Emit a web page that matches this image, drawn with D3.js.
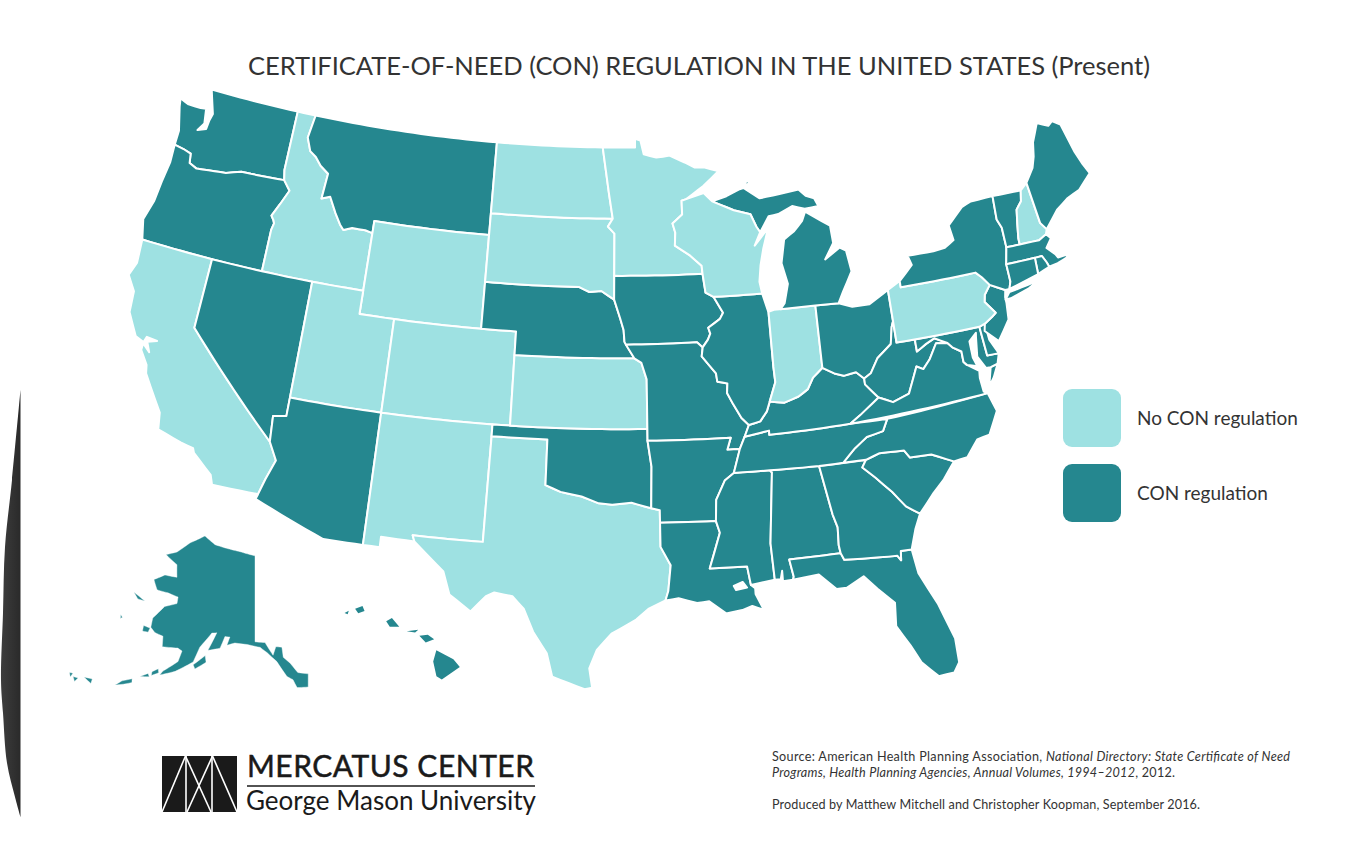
<!DOCTYPE html>
<html><head><meta charset="utf-8"><style>html,body{margin:0;background:#fff}svg{display:block}text{font-family:Lato,sans-serif}</style>
<script src="https://cdn.jsdelivr.net/npm/d3@7"></script></head><body><svg id="c" width="1356" height="857"></svg>
<script>
const titleText="CERTIFICATE-OF-NEED (CON) REGULATION IN THE UNITED STATES (Present)";
const legendLabels=["No CON regulation","CON regulation"];
const noCon=["ID","CA","WY","UT","CO","NM","TX","KS","SD","ND","MN","WI","IN","PA","NH"];
const r=a=>a.slice().reverse();
// shared borders, [lon,lat]
const columbia=[[-124,46.27],[-123.4,46.2],[-122.9,46.1],[-122.8,45.7],[-122.3,45.55],[-121.2,45.65],[-120.5,45.7],[-119.6,45.92],[-119,45.93],[-116.92,45.995]];
const snake=[[-116.92,45.995],[-116.46,45.6],[-116.85,44.95],[-117.2,44.4],[-117.03,44.23],[-116.95,44.1],[-117.03,43.8],[-117.03,42]];
const idMt=[[-115.85,49],[-116.05,48],[-115.72,47.45],[-115.3,47.25],[-114.9,46.92],[-114.35,46.65],[-114.45,45.55],[-113.95,45.7],[-113.45,45.05],[-113.05,44.6],[-112.8,44.4],[-112.3,44.55],[-111.5,44.55],[-111.05,44.48]];
const colorado=[[-114.65,35],[-114.15,34.27],[-114.5,33.4],[-114.72,32.72]];
const red=[[-100,34.56],[-99.2,34.3],[-98.1,34.13],[-97.2,33.85],[-96.5,33.8],[-95.5,33.88],[-94.48,33.64]];
const moUp=[[-96.45,42.49],[-96.1,41.7],[-95.9,41.2],[-95.85,40.7]];
const missMid=[[-91.42,40.38],[-91.5,40],[-90.75,39.25],[-90.7,38.9],[-90.15,38.8],[-90.2,38.4],[-89.9,37.9],[-89.5,37.3],[-89.13,36.98]];
const missLow=[[-89.7,36],[-90.1,35],[-90.6,34.7],[-91.1,33.9],[-91.17,33]];
const missUp=[[-92.8,44.75],[-91.9,44.3],[-91.25,43.85],[-91.22,43.5]];
const iaIl=[[-91.1,42.7],[-90.65,42.5],[-90.15,41.8],[-90.35,41.55],[-91.05,41.2],[-90.95,40.95],[-91.1,40.7],[-91.42,40.38]];
const ohioR=[[-82.6,38.42],[-83,38.73],[-83.7,38.65],[-84.2,38.8],[-84.82,39.1],[-85.4,38.73],[-85.75,38.27],[-86.3,38],[-87.1,37.8],[-87.9,37.9]];
const ohioLow=[[-87.9,37.9],[-88.1,37.5],[-88.5,37.1],[-89.13,36.98]];
const savannah=[[-83.11,35],[-83.35,34.7],[-82.75,34.2],[-82,33.5],[-81.4,32.8],[-80.75,32.4]];
const tnNc=[[-84.32,35],[-83.6,35.55],[-82.9,35.95],[-82,36.1],[-81.68,36.59]];
const ohWv=[[-80.52,40.64],[-80.65,40.4],[-80.85,39.7],[-81.7,39.2],[-82.2,38.6],[-82.6,38.42]];
const vaWv=[[-77.72,39.32],[-78.35,39.4],[-78.87,38.77],[-79.3,38.42],[-79.65,38.58],[-80.3,37.5],[-81.23,37.25],[-81.97,37.54]];
const mdWv=[[-79.48,39.72],[-79.48,39.2],[-78.9,39.45],[-78.4,39.62],[-77.72,39.32]];
const potomac=[[-77.72,39.32],[-77.5,39.1],[-77.05,38.85],[-77.05,38.4],[-76.9,38.25],[-76.3,37.9]];
const paNj=[[-74.7,41.36],[-75.1,41],[-75.2,40.7],[-74.72,40.15],[-75,40],[-75.45,39.8]];
const nyPa=[[-79.76,42.27],[-79.76,42],[-75.35,42],[-75.05,41.75],[-74.7,41.36]];
const vtNh=[[-71.6,44.95],[-71.75,44.5],[-72.13,44.2],[-72.3,43.6],[-72.45,43],[-72.46,42.73]];
const nyVt=[[-73.26,42.75],[-73.25,43.6],[-73.43,44],[-73.34,45.01]];
const nhMe=[[-71.15,45.2],[-70.98,43.4],[-70.7,43.07]];
const wiMi=[[-90.4,46.57],[-89.1,46.13],[-88.1,45.9],[-87.8,45.35],[-87.6,45.1]];
// state outlines: each is a list of rings
const states={
WA:[[[-124.5,48.25],[-124.4,47.9],[-124,46.9],...columbia,[-117.04,46.42],[-117.03,49],[-122.75,49],[-122.5,48.5],[-122.25,48],[-122.35,47.7],[-122.4,47.3],[-122.9,47.15],[-122.6,47.5],[-122.75,48.13],[-123.1,48.1],[-123.9,48.1]]],
OR:[[[-124,46.27],[-123.95,45.5],[-124.1,44.6],[-124.2,43.7],[-124.5,42.85],[-124.2,42],[-117.03,42],...r(snake),...r(columbia).slice(1)]],
CA:[[[-124.2,42],[-120,42],[-120,39],...colorado,[-117.12,32.7],[-117.3,33.1],[-118.4,33.85],[-118.5,34.03],[-119.2,34.15],[-120.5,34.45],[-120.65,35.15],[-121.9,36.6],[-122,36.95],[-122.5,37.5],[-122.5,37.8],[-122.05,37.5],[-122.3,37.9],[-121.8,38.05],[-122.4,38.1],[-122.5,37.85],[-123,38],[-123.7,38.9],[-123.8,39.8],[-124.35,40.4],[-124.1,41]]],
ID:[[[-117.03,49],...idMt,[-111.05,42],[-117.03,42],...r(snake),[-117.04,46.42]]],
NV:[[[-120,42],[-114.05,42],[-114.05,36.2],[-114.75,36.1],[-114.65,35],[-120,39]]],
MT:[[[-115.85,49],[-104.05,49],[-104.05,45],[-111.05,45],...r(idMt).slice(0,-1)]],
WY:[[[-111.05,45],[-104.05,45],[-104.05,41],[-111.05,41]]],
UT:[[[-114.05,42],[-111.05,42],[-111.05,41],[-109.05,41],[-109.05,37],[-114.05,37]]],
CO:[[[-109.05,41],[-102.05,41],[-102.05,37],[-109.05,37]]],
AZ:[[[-114.05,37],[-109.05,37],[-109.05,31.33],[-111.07,31.33],[-114.8,32.5],...r(colorado),[-114.75,36.1],[-114.05,36.2]]],
NM:[[[-109.05,37],[-103,37],[-103,36.5],[-103.05,32],[-106.62,32],[-106.5,31.75],[-108.2,31.78],[-108.2,31.33],[-109.05,31.33]]],
TX:[[[-103,36.5],[-100,36.5],...red,[-94.04,33.55],[-94.04,31.99],[-93.55,31.2],[-93.7,30.1],[-93.85,29.7],[-94.7,29.35],[-95.3,28.9],[-96.5,28.3],[-97.2,27.6],[-97.55,26.8],[-97.4,25.96],[-97.75,25.9],[-99.3,26.4],[-99.6,27.4],[-100.3,28.3],[-100.8,29.25],[-101.4,29.77],[-102.3,29.88],[-102.7,29.7],[-103.4,29],[-104.5,29.65],[-104.9,30.6],[-106.5,31.75],[-106.62,32],[-103.05,32]]],
OK:[[[-103,37],[-94.62,37],[-94.62,36.5],[-94.43,35.4],...r(red),[-100,36.5],[-103,36.5]]],
KS:[[[-102.05,40],[-95.3,40],[-94.9,39.8],[-94.62,39.1],[-94.62,37],[-102.05,37]]],
NE:[[[-104.05,43],[-98.5,43],[-97.9,42.8],[-97.2,42.85],...moUp,[-95.3,40],[-102.05,40],[-102.05,41],[-104.05,41]]],
SD:[[[-104.05,45.94],[-96.56,45.94],[-96.85,45.6],[-96.45,45.3],[-96.45,43.5],[-96.45,42.49],[-97.2,42.85],[-97.9,42.8],[-98.5,43],[-104.05,43]]],
ND:[[[-104.05,49],[-97.23,49],[-96.8,47],[-96.56,45.94],[-104.05,45.94]]],
MN:[[[-97.23,49],[-95.15,49],[-95.15,49.38],[-94.8,49.3],[-94.6,48.7],[-93.8,48.55],[-92.95,48.62],[-92,48.3],[-91.4,48.07],[-90.8,48.05],[-89.9,47.85],[-90.9,47.25],[-92,46.72],[-92.29,46.66],[-92.29,46.07],[-92.9,45.7],[-92.75,45.3],...missUp,[-96.45,43.5],[-96.45,45.3],[-96.85,45.6],[-96.56,45.94],[-96.8,47]]],
IA:[[[-96.45,43.5],[-91.22,43.5],...iaIl,[-91.73,40.61],[-95.77,40.58],[-95.85,40.7],...r(moUp).slice(1)]],
MO:[[[-95.77,40.58],[-91.73,40.61],...missMid,[-89.4,36.5],[-89.7,36],[-90.37,36],[-90.15,36.5],[-94.62,36.5],[-94.62,37],[-94.62,39.1],[-94.9,39.8],[-95.3,40]]],
AR:[[[-94.62,36.5],[-90.15,36.5],[-90.37,36],...missLow,[-94.04,33.02],[-94.04,33.55],[-94.48,33.64],[-94.43,35.4]]],
LA:[[[-94.04,33.02],[-91.17,33],[-91,32.5],[-91.6,31],[-89.73,31],[-89.6,30.2],[-89.4,30.05],[-89.4,29.8],[-89.05,29.1],[-89.6,29.3],[-90.1,29.15],[-90.9,29.05],[-91.7,29.6],[-92.3,29.55],[-93.2,29.78],[-93.85,29.7],[-93.7,30.1],[-93.55,31.2],[-94.04,31.99]],[[-90.45,30.2],[-90,30.35],[-89.8,30.1],[-90.35,30.02]]],
MS:[[[-90.1,35],[-88.2,35],[-88.1,34.9],[-88.47,31.9],[-88.4,30.35],[-89.6,30.2],[-89.73,31],[-91.6,31],[-91,32.5],[-91.17,33],[-91.1,33.9],[-90.6,34.7]]],
AL:[[[-88.2,35],[-85.6,34.98],[-85.18,32.87],[-85,32.3],[-85.05,31.54],[-85,31.2],[-87.6,31.15],[-87.45,30.4],[-87.5,30.28],[-88,30.25],[-88,30.7],[-88.1,30.35],[-88.4,30.35],[-88.47,31.9],[-88.1,34.9]]],
FL:[[[-87.6,31.15],[-85,31.2],[-84.86,30.9],[-82.2,30.77],[-82.05,30.56],[-82,30.95],[-81.45,30.95],[-81.3,29.9],[-80.6,28.5],[-80.05,26.9],[-80.05,25.85],[-80.35,25.45],[-81.1,25.4],[-81.8,26.1],[-82.2,26.9],[-82.75,27.8],[-82.65,28.8],[-83.4,29.5],[-84,30.1],[-84.9,29.7],[-85.4,29.7],[-86.2,30.4],[-87.5,30.28],[-87.45,30.4]]],
GA:[[[-85.6,34.98],...savannah,[-81.1,31.8],[-81.45,30.95],[-82,30.95],[-82.05,30.56],[-82.2,30.77],[-84.86,30.9],[-85,31.2],[-85.05,31.54],[-85,32.3],[-85.18,32.87]]],
SC:[[[-83.11,35],[-82.35,35.2],[-81.05,35.15],[-80.8,34.82],[-79.67,34.8],[-78.57,34.34],[-79.25,33.67],[-79.89,33.18],...r(savannah)]],
NC:[[...tnNc,[-76.11,36.9],[-75.82,36.09],[-76.47,35.16],[-77.15,35.07],[-77.84,34.41],[-78.57,34.34],[-79.67,34.8],[-80.8,34.82],[-81.05,35.15],[-82.35,35.2],[-83.11,35]]],
TN:[[[-90.1,35],[-88.2,35],[-85.6,34.98],...tnNc,[-83.68,36.6],[-88.07,36.5],[-88.07,36.68],[-89.4,36.5],[-89.7,36]]],
KY:[[[-89.4,36.5],[-88.07,36.68],[-88.07,36.5],[-83.68,36.6],[-83.1,36.9],[-81.97,37.54],[-82.6,38.17],...ohioR,...ohioLow.slice(1)]],
IL:[[[-90.65,42.5],[-87.8,42.49],[-87.55,41.72],[-87.53,41.7],[-87.53,39.35],[-87.5,38.7],...ohioLow,...r(missMid).slice(1),...r(iaIl).slice(1,-1)]],
IN:[[[-87.53,41.7],[-87.2,41.76],[-84.8,41.76],[-84.82,39.1],...ohioR.slice(5),[-87.5,38.7],[-87.53,39.35]]],
OH:[[[-84.8,41.76],[-83.45,41.73],[-82.7,41.5],[-81.7,41.5],[-80.52,41.98],...ohWv,...ohioR.slice(1,5)]],
WV:[[...ohWv,[-82.6,38.17],...r(vaWv),...r(mdWv).slice(1),[-80.52,39.72]]],
VA:[[[-83.68,36.6],[-76.11,36.9],[-76.3,37],[-76.35,37.6],...r(potomac),...vaWv.slice(1),[-83.1,36.9]],[[-75.95,37.15],[-75.65,37.95],[-75.24,38.03],[-75.6,37.5]]],
MD:[[[-79.48,39.72],[-75.79,39.72],[-75.7,38.46],[-75.05,38.45],[-75.24,38.03],[-75.65,37.95],[-75.9,37.95],[-76.25,38.5],[-76.1,39.3],[-76.05,39.5],[-76.5,39.2],[-76.5,38.5],[-76.35,38.1],...r(potomac).slice(1),...r(mdWv).slice(0,-1)]],
DE:[[[-75.79,39.72],[-75.45,39.8],[-75.4,39.1],[-75.05,38.45],[-75.7,38.46]]],
NJ:[[...paNj,[-75.55,39.5],[-74.9,38.95],[-74.1,39.75],[-74,40.45],[-74,40.7],[-73.9,41]]],
PA:[[[-80.52,41.98],...nyPa,...paNj.slice(1),[-75.79,39.72],[-80.52,39.72]]],
NY:[[...nyPa,[-73.9,41],[-73.65,41],[-73.5,41.3],[-73.5,42.05],...nyVt,[-74.7,45],[-75.3,44.85],[-76.3,44.2],[-76.2,43.55],[-76.8,43.3],[-77.5,43.25],[-79.05,43.27],[-78.9,42.85]],[[-74,40.6],[-73.7,40.6],[-72.6,40.82],[-71.9,41.07],[-72.6,40.98],[-73.7,40.87]]],
VT:[[...nyVt,...vtNh]],
NH:[[...vtNh,[-71.3,42.7],[-70.82,42.87],...r(nhMe)]],
ME:[[...nhMe.slice(0,1),[-70.55,45.75],[-70.3,46.2],[-70.1,46.8],[-69.55,47.55],[-68.9,47.3],[-68.6,47.45],[-68.15,47.2],[-67.8,45.9],[-67.55,45.3],[-67.3,44.85],[-68.2,44.3],[-69,44.1],[-69.8,43.75],[-70.7,43.07],[-70.98,43.4]]],
MA:[[[-73.5,42.05],[-73.26,42.75],[-72.46,42.73],[-71.3,42.7],[-70.82,42.87],[-70.6,42.65],[-71,42.3],[-70.6,41.95],[-70.5,41.78],[-70,41.8],[-70.2,42.07],[-69.95,41.7],[-70.6,41.55],[-71.13,41.5],[-71.2,41.7],[-71.38,42.02],[-71.8,42.02]]],
RI:[[[-71.8,42.02],[-71.38,42.02],[-71.2,41.7],[-71.13,41.5],[-71.85,41.32]]],
CT:[[[-73.5,42.05],[-71.8,42.02],[-71.85,41.32],[-73.65,41],[-73.5,41.3]]],
MI:[[[-86.82,41.76],[-84.8,41.76],[-83.45,41.73],[-83.1,42.2],[-82.45,43],[-82.6,43.9],[-82.95,44.07],[-83.9,43.65],[-83.3,44.3],[-83.35,45.05],[-84.75,45.78],[-85,45.4],[-85.55,45],[-86.2,44.7],[-86.5,43.7],[-86.25,42.8],[-86.55,42]],[...wiMi,[-87,45.75],[-86.4,45.8],[-85.5,46.08],[-84.75,45.9],[-83.9,45.95],[-84.1,46.3],[-84.6,46.45],[-85,46.75],[-86.2,46.65],[-87.45,46.55],[-88.4,47.05],[-88.7,47],[-89.5,46.75]],[[-88.4,47.2],[-87.9,47.45],[-88.1,47.2]]],
WI:[[[-92.29,46.66],[-92,46.72],[-90.9,46.95],...wiMi,[-88,44.55],[-87.1,45.25],[-87.5,44.4],[-87.75,43.7],[-87.9,43],[-87.8,42.49],[-90.65,42.5],[-91.1,42.7],[-91.22,43.5],[-91.25,43.85],[-91.9,44.3],[-92.8,44.75],[-92.75,45.3],[-92.9,45.7],[-92.29,46.07]]]
};
const alaska=[[[-141,69.8],[-141,60.5],[-138.8,60.4],[-137.2,59],[-136.5,59.9],[-135.2,59.8],[-135.1,58.7],[-133.8,58],[-132.5,56.9],[-130.5,56.6],[-130.9,55.2],[-133,55.3],[-133.6,56.2],[-134.7,56.6],[-136.5,58.3],[-138.4,59.3],[-139.9,59.9],[-142.7,60.2],[-145.4,60.3],[-147.1,60],[-146.6,60.9],[-147.7,60.9],[-148.5,59.6],[-151,59.2],[-149.6,61.2],[-150.7,61.1],[-152.8,59.4],[-153.6,57.7],[-156.7,56.3],[-159.4,55.5],[-159,56],[-156.6,57.4],[-156.3,58.6],[-157.3,58.8],[-160.5,58.5],[-161,59.6],[-162.9,59.7],[-164.1,60.1],[-164.4,61.1],[-162.7,62.7],[-160.1,63.4],[-160.3,64.1],[-163,64.2],[-165.8,64.1],[-167.5,65],[-165.3,65.9],[-162.1,66.1],[-163.2,67.4],[-167.1,68],[-164.4,68.7],[-161.6,70.1],[-157.6,71.3],[-153.8,70.6],[-145.7,70.2]],
[[-153.5,57.4],[-151.4,58.6],[-151,57.9],[-153,57]],[[-170.8,62.9],[-167.5,62.5],[-169.2,62.4]],[[-171.2,60.1],[-170.6,59.9],[-170.9,59.7]],[[-165.7,60],[-164.2,60],[-164.3,59.5],[-165.5,59.4]],[[-162.9,54.7],[-161.6,55.3],[-161.2,55]],[[-161,55.6],[-160,56.1],[-159.7,55.7],[-160.9,55.2]],[[-166.6,52.9],[-165.7,53.6],[-164.1,54.2],[-163.9,53.8],[-165.3,53.3]],[[-172.2,52.3],[-170.7,52.5],[-170.6,52]],[[-173.9,51.8],[-173,51.9],[-173.3,51.4]],[[-174.8,52],[-174.2,52.1],[-174.3,51.6]]];
const hawaii=[[[-155.9,20.25],[-155.1,19.85],[-154.8,19.5],[-155.65,18.95],[-155.9,19.1],[-156.05,19.75]],[[-156.7,20.9],[-156.3,20.95],[-156,20.75],[-156.4,20.6]],[[-157.3,21.1],[-156.75,21.17],[-156.9,21.05]],[[-158.27,21.55],[-158,21.7],[-157.65,21.3],[-158.1,21.3]],[[-159.75,22.1],[-159.4,22.23],[-159.3,22],[-159.6,21.9]],[[-160.25,21.9],[-160.05,22],[-160.1,21.85]]];
const sourceLines=[[["Source: American Health Planning Association, ",0],["National Directory: State Certificate of Need",1]],[["Programs, Health Planning Agencies, Annual Volumes, 1994–2012",1],[", 2012.",0]],[],[["Produced by Matthew Mitchell and Christopher Koopman, September 2016.",0]]];
const sourceWidths=[518,403,0,428];

const dark="#25878f",light="#9ee1e2";
const svg=d3.select("#c");
const grad=svg.append("defs").append("linearGradient").attr("id","sl");
grad.append("stop").attr("offset","0").attr("stop-color","#3d3d3d");
grad.append("stop").attr("offset","1").attr("stop-color","#2a2a2a");
const lower=d3.geoAlbers().scale(1340).translate([611,389]);
const akP=d3.geoConicEqualArea().parallels([55,65]).rotate([141,0]).center([0,65]).scale(531).translate([255,600]);
const hiP=d3.geoConicEqualArea().parallels([8,18]).rotate([157,0]).center([0,20]).scale(1290).translate([413,656]);
function dense(ring){const out=[];ring.forEach((p,i)=>{const q=ring[(i+1)%ring.length];const n=Math.max(1,Math.ceil(Math.abs(q[0]-p[0])/0.5));for(let k=0;k<n;k++)out.push([p[0]+(q[0]-p[0])*k/n,p[1]+(q[1]-p[1])*k/n]);});return out;}
function pathFor(rings,proj){const l=d3.line().x(p=>proj(p)[0]).y(p=>proj(p)[1]);return rings.map(x=>l(dense(x))+"Z").join("");}
const g=svg.append("g");
g.selectAll("path.s").data(Object.keys(states)).join("path").attr("class","s").attr("d",k=>pathFor(states[k],lower)).attr("fill",k=>noCon.includes(k)?light:dark).attr("fill-rule","evenodd").attr("stroke","#fff").attr("stroke-width",2).attr("stroke-linejoin","round");
g.append("path").attr("d",pathFor(alaska,akP)).attr("fill",dark).attr("stroke","#fff").attr("stroke-width",.4);
g.append("path").attr("d",pathFor(hawaii,hiP)).attr("fill",dark);
svg.append("text").attr("x",248).attr("y",75).attr("font-size",25.5).attr("textLength",902).attr("fill","#333").text(titleText);
[light,dark].forEach((c,i)=>{const y=d3.scalePoint().domain([0,1]).range([389,464])(i);
svg.append("rect").attr("x",1063).attr("y",y).attr("width",58).attr("height",58).attr("rx",9).attr("fill",c);
svg.append("text").attr("x",1137).attr("y",y+36).attr("font-size",19).attr("fill","#333").text(legendLabels[i]);});
// logo
const lg=svg.append("g");
lg.append("rect").attr("x",162).attr("y",756).attr("width",75).attr("height",56).attr("fill","#1a1a1a");
[[162,812,185.5,756],[185.5,756,211,812],[212.5,756,187,812],[212.5,756,237,812],[186,756,186,812],[212,756,212,812]].forEach(d=>lg.append("line").attr("x1",d[0]).attr("y1",d[1]).attr("x2",d[2]).attr("y2",d[3]).attr("stroke","#fff").attr("stroke-width",1.6));
lg.append("text").attr("x",247).attr("y",777).attr("font-size",30).attr("fill","#1a1a1a").attr("stroke","#1a1a1a").attr("stroke-width",.5).attr("textLength",287).text("MERCATUS CENTER");
lg.append("line").attr("x1",247).attr("x2",535).attr("y1",786).attr("y2",786).attr("stroke","#1a1a1a").attr("stroke-width",1.5);
lg.append("text").attr("x",246).attr("y",810).attr("font-size",26).attr("fill","#1a1a1a").attr("textLength",290).text("George Mason University");
// source
sourceLines.forEach((ln,i)=>{const t=svg.append("text").attr("x",772).attr("y",[761,777,793,809][i]).attr("font-size",12.6).attr("fill","#333");
if(sourceWidths[i])t.attr("textLength",sourceWidths[i]);
ln.forEach(s=>t.append("tspan").attr("font-style",s[1]?"italic":"normal").text(s[0]));});
// sliver
const sl=[[20.5,390],[12,480],[5,547],[3,613],[1,680],[3,713],[7,763],[15,797],[20.5,817]];
svg.append("path").attr("d",d3.line().curve(d3.curveCatmullRom)(sl)+"Z").attr("fill","url(#sl)");
</script></body></html>
